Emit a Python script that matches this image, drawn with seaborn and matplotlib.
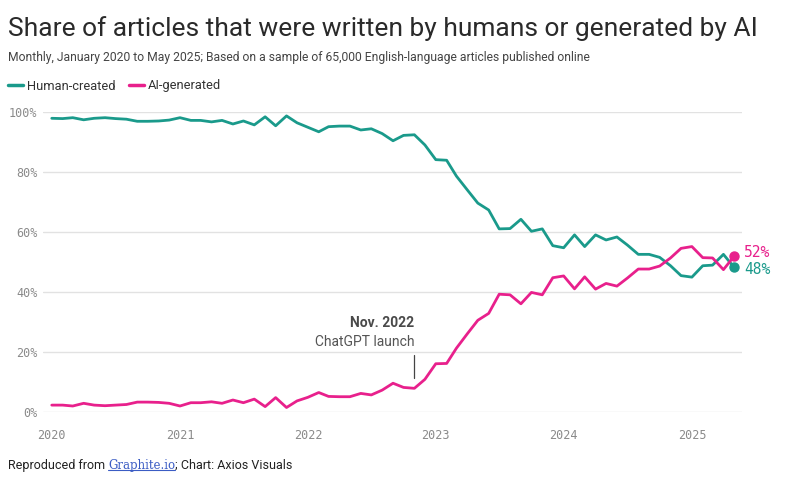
import pandas as pd
import numpy as np
import matplotlib.pyplot as plt
from matplotlib.lines import Line2D
import seaborn as sns

# monthly, Jan 2020 .. May 2025 (65 points), values in percent
months = pd.date_range('2020-01-01', '2025-05-01', freq='MS')
human = [97.9, 97.8, 98.1, 97.4, 97.9, 98.1, 97.8, 97.6, 96.9, 96.9, 97.0, 97.3,
         98.1, 97.2, 97.2, 96.7, 97.2, 96.0, 97.0, 95.7, 98.4, 95.4, 98.7, 96.4,
         94.9, 93.4, 95.1, 95.3, 95.3, 94.0, 94.4, 92.8, 90.4, 92.2, 92.4, 89.0,
         84.1, 83.9, 78.6, 74.0, 69.6, 67.3, 61.0, 61.1, 64.2, 60.2, 61.0, 55.4,
         54.7, 59.0, 55.1, 59.0, 57.3, 58.3, 55.6, 52.5, 52.5, 51.5, 48.7, 45.4,
         44.9, 48.7, 48.9, 52.5, 48.2]
ai = [2.2, 2.2, 1.9, 2.8, 2.2, 2.0, 2.2, 2.4, 3.2, 3.2, 3.1, 2.8,
      1.9, 3.0, 3.0, 3.3, 2.8, 3.9, 3.0, 4.2, 1.7, 4.7, 1.4, 3.6,
      4.8, 6.4, 5.1, 5.0, 5.0, 6.1, 5.6, 7.2, 9.5, 8.1, 7.8, 10.8,
      16.0, 16.1, 21.2, 26.0, 30.5, 32.8, 39.2, 39.0, 36.0, 39.8, 39.0, 44.7,
      45.3, 41.0, 45.0, 40.9, 42.8, 41.9, 44.6, 47.6, 47.6, 48.6, 51.3, 54.5,
      55.1, 51.4, 51.3, 47.4, 51.8]
years = [2020, 2021, 2022, 2023, 2024, 2025]
y_ticks = [0, 20, 40, 60, 80, 100]
launch = pd.Timestamp('2022-11-01')

TEAL = '#1a9a8b'
PINK = '#e8208c'
GREY = '#8a8a8a'

df = pd.DataFrame({
    'month': list(months) * 2,
    'share': human + ai,
    'series': ['Human-created'] * len(human) + ['AI-generated'] * len(ai),
})

sns.set_style('white')
plt.rcParams['font.family'] = ['Roboto', 'DejaVu Sans']

W, H = 812, 479
fig = plt.figure(figsize=(W / 100, H / 100), dpi=100)
ax = fig.add_axes([43 / W, 1 - 411.7 / H, (742 - 43) / W, (411.7 - 112) / H])

sns.lineplot(data=df, x='month', y='share', hue='series',
             palette={'Human-created': TEAL, 'AI-generated': PINK},
             linewidth=2.0, legend=False, ax=ax)

ax.set_ylim(0, 100)
ax.set_xlim(pd.Timestamp('2019-12-07'), pd.Timestamp('2025-05-24'))
for s in ax.spines.values():
    s.set_visible(False)
ax.set_yticks(y_ticks)
ax.set_yticklabels([f'{v}%' for v in y_ticks])
ax.set_xticks([pd.Timestamp(f'{y}-01-01') for y in years])
ax.set_xticklabels([str(y) for y in years])
ax.grid(axis='y', color='#e2e2e2', linewidth=1)
ax.grid(axis='x', visible=False)
ax.set_xlabel('')
ax.set_ylabel('')
ax.tick_params(axis='y', length=0, pad=4, labelsize=8.5, labelcolor=GREY)
ax.tick_params(axis='x', length=8.4, width=1, color='#d0d0d0', pad=4,
               labelsize=8.5, labelcolor=GREY)
for lab in ax.get_xticklabels() + ax.get_yticklabels():
    lab.set_family('DejaVu Sans Mono')

# end dots + labels
ax.scatter([months[-1]], [ai[-1]], s=42, color=PINK, zorder=5, clip_on=False)
ax.scatter([months[-1]], [human[-1]], s=42, color=TEAL, zorder=5, clip_on=False)
ax.annotate(f'{ai[-1]:.0f}%', xy=(months[-1], ai[-1]), xytext=(7.5, 3),
            textcoords='offset points', va='center', ha='left', color=PINK,
            fontsize=10.5, family='DejaVu Sans Mono', annotation_clip=False)
ax.annotate(f'{human[-1]:.0f}%', xy=(months[-1], human[-1]), xytext=(7.5, -1.5),
            textcoords='offset points', va='center', ha='left', color=TEAL,
            fontsize=10.5, family='DejaVu Sans Mono', annotation_clip=False)

# ChatGPT launch marker
ax.plot([launch, launch], [11.2, 18.9], color='#444444', linewidth=0.9)
ax.text(launch, 29.6, 'Nov. 2022', ha='right', va='center', fontsize=10,
        fontweight='bold', color='#4a4a4a')
ax.text(launch, 23.3, 'ChatGPT launch', ha='right', va='center', fontsize=10,
        color='#555555')

# header
title = fig.text(8 / W, 1 - 36 / H, 'Share of articles that were written by humans or generated by AI',
                 fontsize=18, color='#2a2a2a', va='baseline')
sub = fig.text(8 / W, 1 - 61 / H,
               'Monthly, January 2020 to May 2025; Based on a sample of 65,000 English-language articles published online',
               fontsize=9, color='#444444', va='baseline')


def fit_width(txt, width_px):
    fig.canvas.draw()
    w = txt.get_window_extent().width
    txt.set_fontsize(txt.get_fontsize() * width_px / w)


fit_width(title, 749)
fit_width(sub, 590)

handles = [Line2D([], [], color=TEAL, lw=2.5, label='Human-created'),
           Line2D([], [], color=PINK, lw=2.5, label='AI-generated')]
fig.legend(handles=handles, loc='center left', bbox_to_anchor=(8 / W, 1 - 86 / H),
           ncol=2, frameon=False, fontsize=9.3, handlelength=1.15,
           handletextpad=0.35, columnspacing=1.0, borderpad=0, borderaxespad=0,
           labelcolor='#333333')

# footer
t1 = fig.text(8 / W, 1 - 469 / H, 'Reproduced from ', fontsize=9, color='#222222',
              va='baseline')
t2 = ax.annotate('Graphite.io', xy=(1, 0), xycoords=t1, va='bottom', ha='left',
                 fontsize=8.5, family='DejaVu Serif', color='#3b5cc4')
t3 = ax.annotate('; Chart: Axios Visuals', xy=(1, 0), xycoords=t2, va='bottom',
                 ha='left', fontsize=9, color='#222222')
fig.canvas.draw()
bb = t2.get_window_extent()
fig.add_artist(Line2D([bb.x0 / W, bb.x1 / W], [(bb.y0 + 2) / H, (bb.y0 + 2) / H],
                      transform=fig.transFigure, color='#3b5cc4', linewidth=0.8))

fig.savefig('out.png', dpi=100)
